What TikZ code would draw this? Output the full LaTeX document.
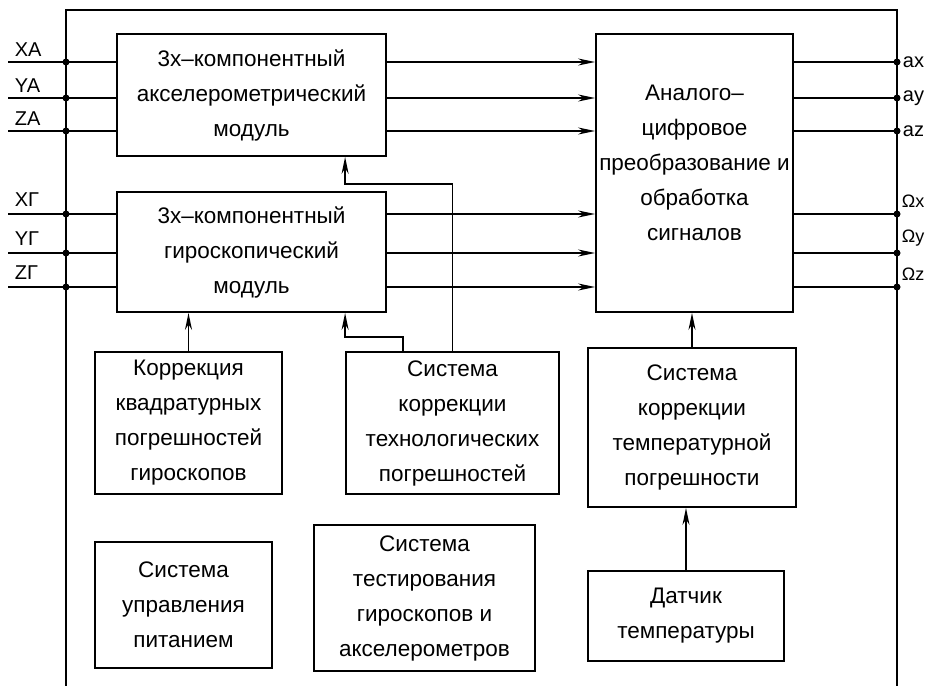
\documentclass[tikz,border=0pt]{standalone}
\usepackage{fontspec}
\setmainfont{Liberation Sans}
\usetikzlibrary{arrows.meta,calc}
\tikzset{
	block/.style={draw, line width=1.8pt, align=center, inner sep=0pt,
			font=\fontsize{22.5}{35}\selectfont},
	sig/.style={-{Stealth[length=17pt,width=7pt]}},
	inlbl/.style={anchor=south west, inner sep=2pt, font=\fontsize{20}{20}\selectfont},
	outlbl/.style={anchor=west, inner sep=5pt, font=\fontsize{20}{20}\selectfont},
	omlbl/.style={anchor=south west, inner sep=2pt, font=\fontsize{18}{18}\selectfont}
}

\begin{document}
\begin{tikzpicture}[x=1pt, y=-1pt, line width=1.8pt]
		\useasboundingbox (0,0) rectangle (930,686);
		% outer frame
		\draw (66,686) -- (66,10) -- (897,10) -- (897,686);

		\node[block, minimum width=269pt, minimum height=122pt] (acc) at (251.5,95)
			{3х–компонентный\\акселерометрический\\модуль};
		\node[block, minimum width=269pt, minimum height=120pt] (gyro) at (251.5,252)
			{3х–компонентный\\гироскопический\\модуль};
		\node[block, minimum width=197pt, minimum height=278pt] (adc) at (694.5,173)
			{Аналого–\\цифровое\\преобразование и\\обработка\\сигналов\\[-15pt]~};

		\node[block, minimum width=187pt, minimum height=142pt] (kvad) at (188.5,423)
			{Коррекция\\квадратурных\\погрешностей\\гироскопов};
		\node[block, minimum width=213pt, minimum height=142pt] (tech) at (452.5,423)
			{Система\\коррекции\\технологических\\погрешностей};
		\node[block, minimum width=208pt, minimum height=159pt] (temp) at (692,427.5)
			{Система\\коррекции\\температурной\\погрешности};

		\node[block, minimum width=177pt, minimum height=126pt] (pwr) at (183.5,605)
			{Система\\управления\\питанием};
		\node[block, minimum width=221pt, minimum height=146pt] (test) at (424.5,598)
			{Система\\тестирования\\гироскопов и\\акселерометров};
		\node[block, minimum width=196pt, minimum height=90pt] (sens) at (686,616)
			{Датчик\\температуры};

		% accelerometer channels
		\foreach \y/\inl/\outl [count=\i] in {62/XA/ax, 98/YA/ay, 131/ZA/az} {
			\coordinate (inA\i) at (8,\y);
			\coordinate (outA\i) at (897,\y);
			\draw (inA\i) -- (acc.west |- inA\i);
			\draw[sig] (acc.east |- inA\i) -- (adc.west |- inA\i);
			\draw (adc.east |- inA\i) -- (outA\i);
			\fill (66,\y) circle (3.5pt);
			\fill (outA\i) circle (3.5pt);
			\node[inlbl] (lblA\i) at (12,\y-3) {\inl};
			\node[outlbl] (lblOA\i) at (outA\i) {\outl};
		}

		% gyro channels
		\foreach \y/\inl/\outl [count=\i] in {214/XГ/Ωx, 253/YГ/Ωy, 287/ZГ/Ωz} {
			\coordinate (inG\i) at (8,\y);
			\coordinate (outG\i) at (897,\y);
			\draw (inG\i) -- (gyro.west |- inG\i);
			\draw[sig] (gyro.east |- inG\i) -- (adc.west |- inG\i);
			\draw (adc.east |- inG\i) -- (outG\i);
			\fill (66,\y) circle (3.5pt);
			\fill (outG\i) circle (3.5pt);
			\node[inlbl] (lblG\i) at (12,\y-5) {\inl};
			\node[omlbl] (lblOG\i) at (899,\y-4) {\outl};
		}

		% corrections
		\draw[sig] (kvad.north) -- (kvad.north |- gyro.south);
		\draw[sig] (tech.north) -- ++(0,-167) -| (acc.south -| tech.west);
		\draw[sig] ($(tech.north west)+(58,0)$) -- ++(0,-14) -| (gyro.south -| tech.west);
		\draw[sig] (temp.north) -- (temp.north |- adc.south);
		\draw[sig] (sens.north) -- (sens.north |- temp.south);
	\end{tikzpicture}
\end{document}
